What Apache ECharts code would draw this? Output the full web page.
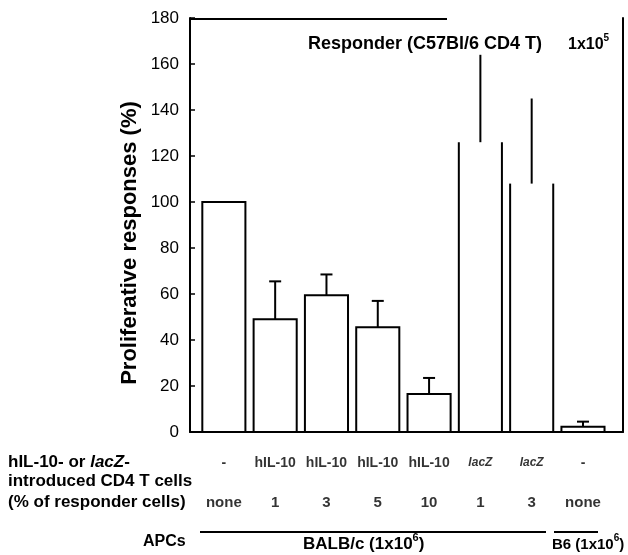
<!DOCTYPE html>
<html><head><meta charset="utf-8">
<script src="https://cdn.jsdelivr.net/npm/echarts@6/dist/echarts.min.js"></script>
<style>html,body{margin:0;padding:0;background:#fff}#c{width:628px;height:555px}</style>
</head><body><div id="c"></div>
<script>
const treatments = ['-', 'hIL-10', 'hIL-10', 'hIL-10', 'hIL-10', 'lacZ', 'lacZ', '-'];
const percents = ['none', '1', '3', '5', '10', '1', '3', 'none'];
const values = [100, 49, 59.5, 45.5, 16.5, 126, 108, 2.3];
const errors = [0, 16.5, 9, 11.5, 7, 38, 37, 2.2];
const yTicks = [0, 20, 40, 60, 80, 100, 120, 140, 160, 180];

const chart = echarts.init(document.getElementById('c'));
const FONT = 'Liberation Sans, Arial, sans-serif';
const barData = values.map((v, i) => [i, v, errors[i], treatments[i]]);
const supRich = (fs) => ({
  b: { fontFamily: FONT, fontWeight: 'bold', fontSize: fs, color: '#000', lineHeight: fs + 4, verticalAlign: 'bottom' },
  s: { fontFamily: FONT, fontWeight: 'bold', fontSize: Math.round(fs * 0.65), color: '#000', lineHeight: fs + 4, verticalAlign: 'top' }
});

chart.setOption({
  animation: false,
  grid: { left: 190, right: 5, top: 18, bottom: 123 },
  xAxis: {
    type: 'value', min: -0.66, max: 7.78,
    axisLine: { show: true, onZero: false, lineStyle: { color: '#000', width: 2 } },
    axisTick: { show: false }, axisLabel: { show: false }, splitLine: { show: false }
  },
  yAxis: [{
    type: 'value', min: 0, max: 180, interval: 20,
    axisLine: { show: true, onZero: false, lineStyle: { color: '#000', width: 2 } },
    axisTick: { show: true, inside: true, length: 5, lineStyle: { color: '#000', width: 1.5 } },
    axisLabel: { fontFamily: FONT, fontSize: 17, color: '#000', margin: 11,
      formatter: v => yTicks.includes(v) ? String(v) : '' },
    splitLine: { show: false }
  }, {
    type: 'value', min: 0, max: 180, position: 'right',
    axisLine: { show: true, onZero: false, lineStyle: { color: '#000', width: 2 } },
    axisTick: { show: false }, axisLabel: { show: false }, splitLine: { show: false }
  }],
  series: [{
    type: 'custom',
    data: barData,
    encode: { x: 0, y: 1 },
    renderItem: function (params, api) {
      const i = api.value(0), v = api.value(1), e = api.value(2);
      const open = treatments[i] === 'lacZ';
      const halfW = api.size([0.84, 0])[0] / 2;
      const base = api.coord([i, 0]);
      const top = api.coord([i, v]);
      const errTop = api.coord([i, v + e]);
      const children = [];
      const ls = { stroke: '#000', lineWidth: 2, fill: null };
      if (open) {
        children.push({ type: 'line', shape: { x1: base[0] - halfW, y1: base[1], x2: top[0] - halfW, y2: top[1] }, style: ls });
        children.push({ type: 'line', shape: { x1: base[0] + halfW, y1: base[1], x2: top[0] + halfW, y2: top[1] }, style: ls });
      } else {
        children.push({ type: 'polyline', shape: { points: [[base[0] - halfW, base[1]], [top[0] - halfW, top[1]], [top[0] + halfW, top[1]], [base[0] + halfW, base[1]]] }, style: ls });
      }
      if (e > 0) {
        children.push({ type: 'line', shape: { x1: top[0], y1: top[1], x2: errTop[0], y2: errTop[1] }, style: ls });
        if (!open) {
          children.push({ type: 'line', shape: { x1: errTop[0] - 6, y1: errTop[1], x2: errTop[0] + 6, y2: errTop[1] }, style: ls });
        }
      }
      return { type: 'group', children: children };
    }
  }, {
    type: 'scatter', symbolSize: 1, itemStyle: { color: 'transparent' },
    data: treatments.map((t, i) => [i, 0, t]),
    label: {
      show: true, position: 'inside', offset: [0, 31],
      formatter: p => p.value[2] === 'lacZ' ? '{it|lacZ}' : p.value[2],
      fontFamily: FONT, fontWeight: 'bold', fontSize: 14, color: '#000',
      rich: { it: { fontStyle: 'italic', fontFamily: FONT, fontWeight: 'bold', fontSize: 12, color: '#000' } }
    }
  }, {
    type: 'scatter', symbolSize: 1, itemStyle: { color: 'transparent' },
    data: percents.map((t, i) => [i, 0, t]),
    label: {
      show: true, position: 'inside', offset: [0, 71],
      formatter: p => p.value[2],
      fontFamily: FONT, fontWeight: 'bold', fontSize: 15, color: '#000'
    }
  }],
  graphic: [
    { type: 'line', shape: { x1: 190, y1: 19, x2: 447, y2: 19 }, style: { stroke: '#000', lineWidth: 2 } },
    { type: 'text', x: 130, y: 243, rotation: Math.PI / 2,
      style: { text: 'Proliferative responses (%)', font: 'bold 22px ' + FONT, fill: '#000', align: 'center', verticalAlign: 'middle' } },
    { type: 'text', left: 308, top: 35, style: { text: 'Responder (C57Bl/6 CD4 T)', font: 'bold 18px ' + FONT, fill: '#000' } },
    { type: 'text', left: 568, top: 33, style: { text: '{b|1x10}{s|5}', rich: supRich(16) } },
    { type: 'text', left: 8, top: 454, style: { text: '{b|hIL-10- or }{i|lacZ}{b|-}', rich: { b: { font: 'bold 17px ' + FONT, fill: '#000' }, i: { font: 'italic bold 17px ' + FONT, fill: '#000' } } } },
    { type: 'text', left: 8, top: 473, style: { text: 'introduced CD4 T cells', font: 'bold 17px ' + FONT, fill: '#000' } },
    { type: 'text', left: 8, top: 494, style: { text: '(% of responder cells)', font: 'bold 17px ' + FONT, fill: '#000' } },
    { type: 'line', shape: { x1: 200, y1: 532, x2: 546, y2: 532 }, style: { stroke: '#000', lineWidth: 2 } },
    { type: 'line', shape: { x1: 554, y1: 532, x2: 598, y2: 532 }, style: { stroke: '#000', lineWidth: 2 } },
    { type: 'text', left: 143, top: 534, style: { text: 'APCs', font: 'bold 16px ' + FONT, fill: '#000' } },
    { type: 'text', left: 303, top: 532, style: { text: '{b|BALB/c (1x10}{s|6}{b|)}', rich: supRich(17) } },
    { type: 'text', left: 552, top: 533, style: { text: '{b|B6 (1x10}{s|6}{b|)}', rich: supRich(15) } }
  ]
});
</script></body></html>
